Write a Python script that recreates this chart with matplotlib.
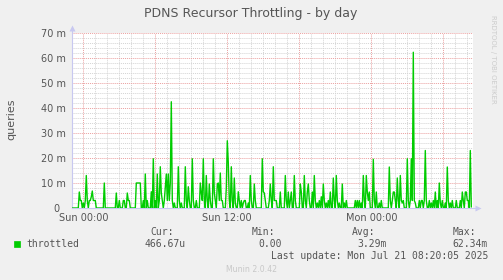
import matplotlib
matplotlib.use("Agg")
import matplotlib.pyplot as plt
import matplotlib.dates as mdates
import matplotlib.ticker as mticker
from matplotlib.patches import Rectangle
import pandas as pd

TITLE = "PDNS Recursor Throttling - by day"
Y_LABEL = "queries"
SERIES_LABEL = "throttled"
FIRST_SAMPLE = "2025-07-19 23:05"   # one sample every 5 minutes
SAMPLE_STEP = "5min"

# throttled queries, in milli (m) units, 5 min apart
THROTTLED = [
    0, 0, 0, 0, 0, 0, 0, 6.4, 3, 3, 0, 2, 0, 3, 13, 3, 0, 3, 3, 4.5,
    6.8, 3, 3, 3, 0, 0, 0, 0, 0, 0, 0, 0, 10, 0, 0, 0, 0, 0, 0, 0,
    0, 0, 0, 0, 6, 0, 0, 3, 0, 0, 0, 3, 3, 0, 0, 6, 3, 3, 0, 0,
    0, 0, 0, 0, 10, 10, 10, 10, 10, 0, 0, 3, 0, 13.6, 0, 3, 0, 0, 0, 6.5,
    0, 19.7, 0, 3, 0, 13.6, 0, 3, 16.5, 6, 3, 0, 3, 8.5, 13.6, 3, 13.6, 3, 10, 42.5,
    3, 0, 2, 0, 0, 0, 16.5, 3, 0, 2, 0, 0, 0, 16.5, 3, 0, 8.5, 3, 0, 0,
    19.7, 3, 0, 0, 3, 0, 0, 0, 10, 6, 3, 19.7, 3, 0, 13, 3, 0, 9.6, 3, 0,
    0, 19.7, 6, 3, 0, 9.6, 10, 3, 14, 3, 3, 0, 0, 0, 8, 26.9, 18, 3, 0, 16.5,
    3, 0, 12, 2, 0, 0, 6.5, 3, 0, 3, 0, 2, 3, 3, 0, 0, 2, 0, 13, 3,
    0, 0, 9.6, 3, 0, 0, 0, 0, 0, 0, 19.7, 6.5, 6, 3, 0, 0, 0, 3, 9.6, 3,
    0, 16.5, 3, 3, 3, 0, 0, 0, 6.4, 0, 0, 0, 0, 13, 3, 0, 6.4, 0, 3, 6.4,
    0, 0, 13, 3, 0, 0, 0, 0, 9.6, 6.4, 0, 0, 13, 3, 0, 6.4, 9.6, 3, 0, 0,
    6.4, 0, 13, 3, 0, 2, 0, 3, 0, 4.5, 0, 9.6, 3, 0, 2, 0, 3, 0, 6.4, 0,
    0, 12, 3, 0, 13, 3, 0, 2, 0, 0, 9.6, 0, 2, 0, 3, 0, 0, 0, 0, 0,
    0, 0, 0, 3, 0, 3, 0, 3, 0, 2, 0, 13, 3, 0, 13, 6.4, 3, 6.4, 0, 0,
    0, 19.5, 3, 0, 6.4, 0, 0, 2, 0, 3, 0, 0, 0, 0, 0, 0, 0, 16.4, 3, 0,
    3, 6.4, 6.4, 3, 0, 12, 3, 0, 13, 3, 2, 3, 0, 0, 0, 19.7, 3, 0, 3, 19.7,
    3, 62.3, 3, 2, 0, 0, 0, 3, 0, 3, 3, 0, 3, 23, 3, 0, 0, 3, 0, 2,
    0, 3, 0, 6.4, 0, 3, 0, 10, 2, 0, 3, 0, 0, 2, 0, 16.4, 3, 0, 2, 0,
    3, 0, 0, 0, 3, 0, 0, 0, 3, 0, 6.4, 3, 0, 6.4, 6.4, 3, 3, 0, 23, 0.47,
]

Y_TICKS = [0, 10, 20, 30, 40, 50, 60, 70]
Y_TICK_LABELS = ["0  ", "10 m", "20 m", "30 m", "40 m", "50 m", "60 m", "70 m"]
STAT_NAMES = ["Cur:", "Min:", "Avg:", "Max:"]
STAT_VALUES = ["466.67u", "0.00", "3.29m", "62.34m"]
LAST_UPDATE = "Last update: Mon Jul 21 08:20:05 2025"
WATERMARK = "RRDTOOL / TOBI OETIKER"
FOOTER = "Munin 2.0.42"

W, H = 503, 280
TEXT = "#555555"
GREEN = "#00CC00"
AXIS = "#C8C8F0"


def px(x, y):
    # figure pixel (from top-left) -> figure fraction
    return x / W, 1 - y / H


times = pd.date_range(FIRST_SAMPLE, periods=len(THROTTLED), freq=SAMPLE_STEP)

fig = plt.figure(figsize=(W / 100, H / 100), dpi=100, facecolor="#F0F0F0")
ax = fig.add_axes([72 / W, 72 / H, 401 / W, 175 / H])
ax.set_facecolor("white")

ax.plot(times, THROTTLED, color=GREEN, lw=1.0, zorder=3)

ax.set_xlim(pd.Timestamp("2025-07-19 23:03:30"), pd.Timestamp("2025-07-21 08:28:30"))
ax.set_ylim(0, 70)

# x axis: red lines every 6h, labels at 00/12, grey every hour
ax.xaxis.set_major_locator(mdates.HourLocator(byhour=[0, 6, 12, 18]))
ax.xaxis.set_minor_locator(mdates.HourLocator())


def fmt_x(v, pos):
    d = mdates.num2date(v)
    return d.strftime("%a %H:%M") if d.hour in (0, 12) else ""


ax.xaxis.set_major_formatter(mticker.FuncFormatter(fmt_x))
ax.yaxis.set_major_locator(mticker.FixedLocator(Y_TICKS))
ax.yaxis.set_major_formatter(mticker.FixedFormatter(Y_TICK_LABELS))
ax.yaxis.set_minor_locator(mticker.MultipleLocator(2))

ax.tick_params(which="both", length=0, labelsize=7, labelcolor=TEXT)
ax.tick_params(axis="x", pad=3.5)
ax.tick_params(axis="y", pad=4.3)

dots = (0, (1, 1))
ax.grid(which="minor", color="#d4d4d4", lw=0.7, linestyle=dots)
ax.grid(which="major", color="#eba0a0", lw=0.7, linestyle=dots)
ax.set_axisbelow(True)
for s in ax.spines.values():
    s.set_visible(False)

# rrdtool style axes with arrow heads
ax.plot([0, 0], [0, 1.02], transform=ax.transAxes, color=AXIS, lw=0.8, clip_on=False, zorder=2)
ax.plot([0], [1.03], transform=ax.transAxes, marker="^", ms=4, color=AXIS, mec="none", clip_on=False)
ax.plot([0, 1.008], [0, 0], transform=ax.transAxes, color=AXIS, lw=0.8, clip_on=False, zorder=2)
ax.plot([1.012], [0], transform=ax.transAxes, marker=">", ms=4, color=AXIS, mec="none", clip_on=False)

fig.text(*px(251, 14), TITLE, ha="center", va="center", fontsize=9, color=TEXT)
fig.text(*px(11, 119), Y_LABEL, ha="center", va="center", rotation=90, fontsize=8, color=TEXT)
fig.text(*px(493.5, 15), WATERMARK, ha="center", va="top", rotation=270, fontsize=5, color="#cccccc")

# legend block
mono = "DejaVu Sans Mono"
fig.patches.append(Rectangle(px(14, 247), 6 / W, 6 / H, transform=fig.transFigure,
                             facecolor=GREEN, edgecolor=GREEN, lw=0.5))
fig.text(*px(26.5, 244), SERIES_LABEL, ha="left", va="center", family=mono, fontsize=7, color=TEXT)
name_x = [162.5, 263.5, 363.5, 464]
value_x = [144.3, 258.3, 357.7, 452.3]
for name, nx, val, vx in zip(STAT_NAMES, name_x, STAT_VALUES, value_x):
    fig.text(*px(nx, 232), name, ha="center", va="center", family=mono, fontsize=7, color=TEXT)
    fig.text(*px(vx, 244), val, ha="left", va="center", family=mono, fontsize=7, color=TEXT)
fig.text(*px(488.5, 256), LAST_UPDATE, ha="right", va="center", family=mono, fontsize=7, color=TEXT)
fig.text(*px(251.5, 269.5), FOOTER, ha="center", va="center", fontsize=5.6, color="#c8c8c8")

fig.savefig("out.png", dpi=100, facecolor=fig.get_facecolor())
